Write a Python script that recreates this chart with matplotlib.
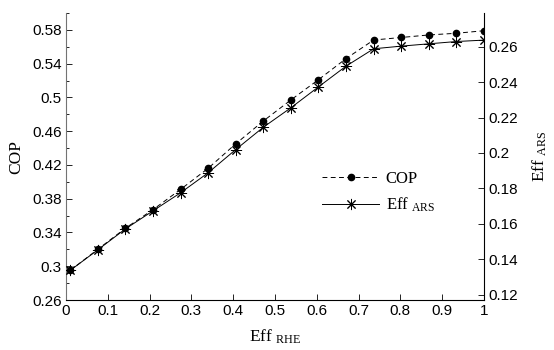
import matplotlib
matplotlib.use('Agg')
import matplotlib.pyplot as plt
from matplotlib.ticker import MultipleLocator, FuncFormatter

plt.rcParams['mathtext.fontset'] = 'custom'
plt.rcParams['mathtext.rm'] = 'Liberation Serif'
plt.rcParams['mathtext.it'] = 'Liberation Serif:italic'

eff_rhe = [0.01, 0.076, 0.142, 0.208, 0.274, 0.34, 0.406, 0.472,
           0.538, 0.604, 0.67, 0.736, 0.802, 0.868, 0.934, 1.0]
cop = [0.295, 0.320, 0.345, 0.367, 0.391, 0.416, 0.445, 0.472,
       0.497, 0.521, 0.546, 0.568, 0.571, 0.574, 0.576, 0.579]
eff_ars = [0.1337, 0.1453, 0.1571, 0.1673, 0.1775, 0.1888, 0.2019, 0.2145,
           0.2255, 0.2373, 0.2490, 0.2588, 0.2603, 0.2616, 0.2629, 0.2637]

tick_font = {'family': 'Liberation Sans', 'size': 11}
label_font = {'family': 'Liberation Serif', 'size': 12.5}
fmt = FuncFormatter(lambda v, p: '%g' % round(v, 4))

fig = plt.figure(figsize=(5.54, 3.5), dpi=100)
ax = fig.add_axes([66 / 554, 50 / 350, 418 / 554, 287 / 350])
ax2 = ax.twinx()

l1, = ax.plot(eff_rhe, cop, color='black', linestyle=(0, (5, 3.5)), linewidth=0.7,
              marker='o', markersize=4.5, markerfacecolor='black', label='COP')
l2, = ax2.plot(eff_rhe, eff_ars, color='black', linestyle='-', linewidth=0.7,
               marker=(8, 2, 0), markersize=8, markeredgewidth=0.7,
               label=r'Eff $_{\mathrm{ARS}}$')

ax.set_xlim(0, 1)
ax.set_ylim(0.26, 0.6)
ax2.set_ylim(0.117, 0.279)

ax.xaxis.set_major_locator(MultipleLocator(0.1))
ax.yaxis.set_minor_locator(MultipleLocator(0.02))
ax.set_yticks([0.26 + 0.04 * i for i in range(9)])
ax2.set_yticks([0.12 + 0.02 * i for i in range(8)])
ax.xaxis.set_major_formatter(fmt)
ax.yaxis.set_major_formatter(fmt)
ax2.yaxis.set_major_formatter(fmt)

for a in (ax, ax2):
    a.spines['top'].set_visible(False)
    a.tick_params(direction='in', length=4, width=0.6, pad=3)
    a.tick_params(which='minor', direction='in', length=2.5, width=0.6)
    for lab in a.get_xticklabels() + a.get_yticklabels():
        lab.set_fontfamily(tick_font['family'])
        lab.set_fontsize(tick_font['size'])
ax.spines['right'].set_visible(False)
ax2.spines['left'].set_visible(False)
ax.spines['left'].set_color('0.45')
ax2.spines['bottom'].set_visible(False)

ax.set_ylabel('COP', fontdict=label_font, labelpad=6)
ax2.set_ylabel(r'Eff $_{\mathrm{ARS}}$', fontdict=label_font, labelpad=9)
ax.set_xlabel(r'Eff $_{\mathrm{RHE}}$', fontdict=label_font, labelpad=7)

leg = ax2.legend(handles=[l1, l2], loc='upper left', bbox_to_anchor=(0.597, 0.473),
                 frameon=False, numpoints=1, handlelength=3.4, handletextpad=0.4,
                 labelspacing=0.55, borderaxespad=0,
                 prop={'family': 'Liberation Serif', 'size': 12})

fig.savefig('out.png', dpi=100)
